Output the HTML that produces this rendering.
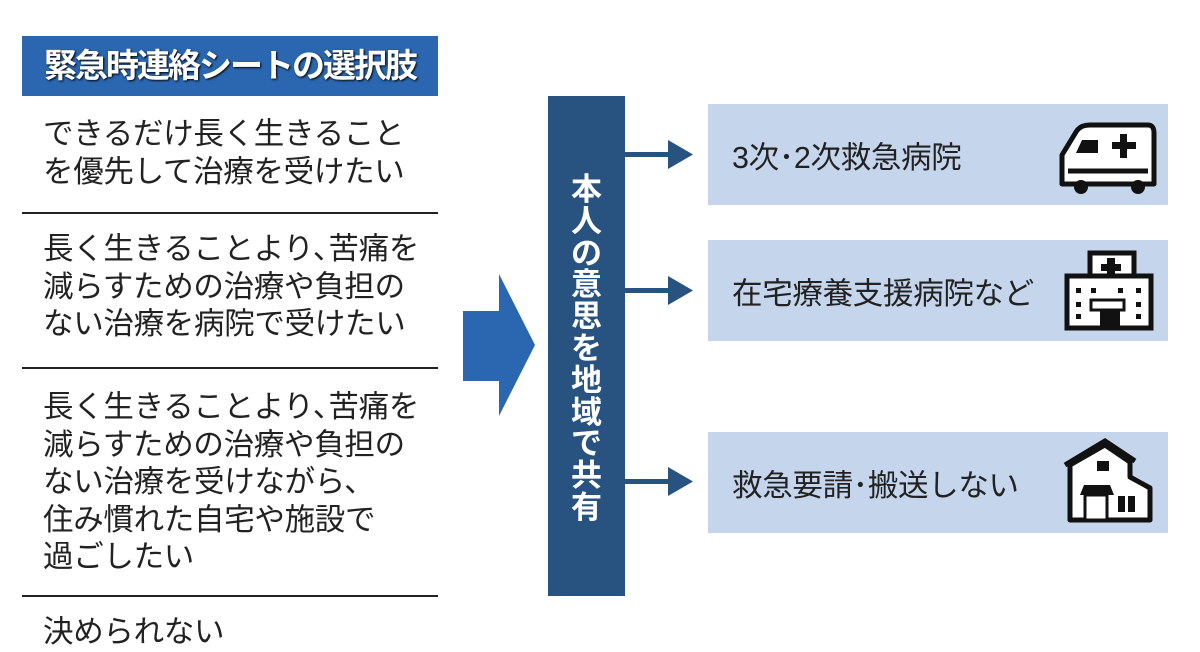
<!DOCTYPE html>
<html><head><meta charset="utf-8"><style>
body{margin:0;width:1200px;height:630px;overflow:hidden;background:#fff;position:relative;font-family:"Liberation Sans","Noto Sans CJK JP",sans-serif;}
.a{position:absolute}
.hd{left:22px;top:36px;width:416px;height:60px;background:#2b67b1;color:#fff;font-weight:bold;font-size:33px;line-height:60px;text-align:center;letter-spacing:-2px;text-shadow:1px 1px 2px #000}
.t{left:43px;font-size:30.5px;line-height:37.5px;color:#222;white-space:nowrap;letter-spacing:-0.3px}
.ln{left:22px;width:416px;height:2px;background:#222}
.bx{left:708px;width:460px;background:#c5d5ec}
.bt{position:absolute;left:24px;font-size:30.5px;color:#222;white-space:nowrap;letter-spacing:-0.3px}
.vb{left:548px;top:96px;width:77px;height:500px;background:#28527f}
.vt{left:548px;top:174px;width:77px;color:#fff;font-weight:bold;font-size:31px;line-height:31.8px;text-align:center}
</style></head><body>
<div class="a hd">緊急時連絡シートの選択肢</div>
<div class="a t" style="top:116px">できるだけ長く生きること<br>を優先して治療を受けたい</div>
<div class="a ln" style="top:212px"></div>
<div class="a t" style="top:231px">長く生きることより､苦痛を<br>減らすための治療や負担の<br>ない治療を病院で受けたい</div>
<div class="a ln" style="top:367px"></div>
<div class="a t" style="top:389px">長く生きることより､苦痛を<br>減らすための治療や負担の<br>ない治療を受けながら､<br>住み慣れた自宅や施設で<br>過ごしたい</div>
<div class="a ln" style="top:595px"></div>
<div class="a t" style="top:614px">決められない</div>
<svg class="a" style="left:0;top:0" width="1200" height="630">
<polygon points="463,311 499,311 499,274 535,345 499,416 499,381 463,381" fill="#2b67b1"/>
<g fill="#28527f">
<rect x="625" y="152" width="45" height="5"/><polygon points="668,140 693,154.5 668,169"/>
<rect x="625" y="288" width="45" height="5"/><polygon points="668,276 693,290.5 668,305"/>
<rect x="625" y="479" width="45" height="5"/><polygon points="668,467 693,481.5 668,496"/>
</g>
</svg>
<div class="a vb"></div>
<div class="a vt">本<br>人<br>の<br>意<br>思<br>を<br>地<br>域<br>で<br>共<br>有</div>
<div class="a bx" style="top:104px;height:101px"><div class="bt" style="top:29px">3次･2次救急病院</div></div>
<div class="a bx" style="top:240px;height:101px"><div class="bt" style="top:29px">在宅療養支援病院など</div></div>
<div class="a bx" style="top:432px;height:101px"><div class="bt" style="top:29px">救急要請･搬送しない</div></div>
<svg class="a" style="left:1040px;top:100px" width="160" height="440">
<g stroke="#111" stroke-width="5" fill="#fff" stroke-linejoin="round">
<path d="M22,84 L22,55 L36,32 Q40,25 50,25 L108,25 Q114,25 114,33 L114,84 Z"/>
<line x1="28" y1="71" x2="108" y2="71"/>
</g>
<path d="M42,40 L58,40 L58,53 L36,53 Z" fill="#111"/>
<rect x="72" y="42" width="24" height="7" fill="#111"/><rect x="80" y="34" width="7" height="24" fill="#111"/>
<circle cx="41" cy="87" r="7" fill="#111"/><circle cx="98" cy="87" r="7" fill="#111"/>
<g stroke="#111" stroke-width="5" fill="#fff">
<rect x="50" y="153" width="44" height="30"/>
<rect x="27" y="176" width="84" height="52"/>
</g>
<rect x="67" y="158" width="8" height="20" fill="#111"/><rect x="61" y="164" width="20" height="7" fill="#111"/>
<g fill="#111"><rect x="36" y="188" width="5" height="5"/><rect x="51" y="188" width="5" height="5"/><rect x="78" y="188" width="5" height="5"/><rect x="96" y="188" width="5" height="5"/>
<rect x="36" y="202" width="5" height="5"/><rect x="96" y="202" width="5" height="5"/><rect x="36" y="214" width="5" height="5"/><rect x="96" y="214" width="5" height="5"/>
<rect x="60" y="211" width="20" height="17"/></g>
<rect x="51" y="200" width="33" height="10" stroke="#111" stroke-width="3" fill="#fff"/>
<g stroke="#111" stroke-width="5" fill="#fff" stroke-linejoin="round">
<path d="M30,420 L30,365 L65,345 L90,362 L90,377 L110,388 L110,420 Z"/>
</g>
<path d="M25,365 L65,341 L95,361" stroke="#111" stroke-width="5" fill="none"/>
<rect x="57" y="361" width="12" height="10" fill="#111"/>
<path d="M40,395 L44,385 L70,385 L74,395 Z" fill="#111"/>
<rect x="45" y="395" width="22" height="25" fill="#fff" stroke="#111" stroke-width="3"/>
<rect x="78" y="396" width="7" height="16" fill="#111"/><rect x="88" y="396" width="7" height="16" fill="#111"/>
</svg>
</body></html>
